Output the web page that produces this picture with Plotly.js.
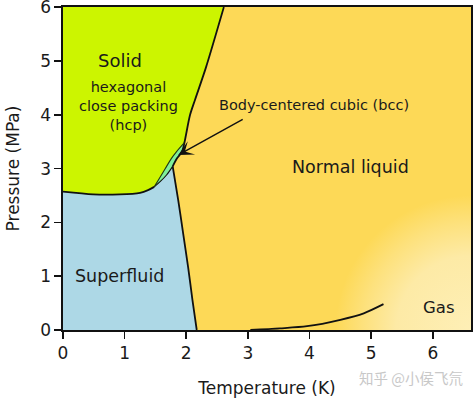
<!DOCTYPE html>
<html><head><meta charset="utf-8">
<script src="https://cdn.plot.ly/plotly-3.0.1.min.js"></script>
<style>html,body{margin:0;padding:0;background:#fff}</style>
</head><body>
<div id="chart" style="width:474px;height:398px"></div>
<script>
// Axis ranges and ticks
const xRange = [0, 6.62];
const yRange = [0, 6.002];
const xTicks = [0, 1, 2, 3, 4, 5, 6];
const yTicks = [0, 1, 2, 3, 4, 5, 6];

// hcp solid / normal liquid melting curve (top down to bcc tip)
const meltT = [2.61, 2.32, 2.14, 2.06, 1.97];
const meltP = [6.00, 4.88, 4.27, 3.99, 3.48];
// hcp / bcc boundary
const hcpBccT = [1.97, 1.84, 1.76, 1.66, 1.56, 1.48];
const hcpBccP = [3.48, 3.31, 3.19, 3.00, 2.81, 2.66];
// bcc / normal liquid boundary
const bccLiqT = [1.97, 1.93, 1.85, 1.78];
const bccLiqP = [3.48, 3.31, 3.19, 3.04];
// bcc / superfluid boundary
const bccSfT = [1.78, 1.68, 1.58, 1.48];
const bccSfP = [3.04, 2.88, 2.76, 2.66];
// hcp / superfluid boundary
const hcpSfT = [1.48, 1.38, 1.25, 0.92, 0.49, 0];
const hcpSfP = [2.66, 2.60, 2.55, 2.52, 2.52, 2.57];
// lambda line (superfluid / normal liquid)
const lambdaT = [1.78, 1.87, 1.95, 2.03, 2.10, 2.17];
const lambdaP = [3.04, 2.41, 1.79, 1.17, 0.56, 0];
// liquid / gas vapour curve up to the critical point
const vapT = [3.04, 3.52, 3.96, 4.50, 4.88, 5.20];
const vapP = [0, 0.03, 0.07, 0.19, 0.31, 0.48];
// gas glow extent (bounding box of radial fade, centred on the lower-right corner)
const glowT = [4.42, 8.82, 8.82, 4.42];
const glowP = [-2.5, -2.5, 2.5, 2.5];

const rev = a => a.slice().reverse();
const cat = (...arrs) => [].concat(...arrs);

const cLiquid = '#fdd957', cHcp = '#ccf500', cSf = '#add8e6', cBcc = '#80f09a';
const lineStyle = {color: '#111', width: 1.8, shape: 'spline', smoothing: 0.8};
const noHover = {hoverinfo: 'skip', showlegend: false, mode: 'lines'};

const traces = [
  // normal liquid (whole field)
  Object.assign({x: [xRange[0], xRange[1], xRange[1], xRange[0]], y: [yRange[0], yRange[0], yRange[1], yRange[1]],
    fill: 'toself', fillcolor: cLiquid, line: {width: 0}}, noHover),
  // gas glow
  Object.assign({x: glowT, y: glowP, fill: 'toself', line: {width: 0},
    fillgradient: {type: 'radial', colorscale: [[0, 'rgba(254,239,182,1)'], [0.55, 'rgba(253,235,170,0.95)'], [0.8, 'rgba(253,235,170,0.45)'], [1, 'rgba(253,235,170,0)']]}}, noHover),
  // hcp solid
  Object.assign({x: cat([0], meltT, hcpBccT, hcpSfT), y: cat([6], meltP, hcpBccP, hcpSfP),
    fill: 'toself', fillcolor: cHcp, line: {width: 0}}, noHover),
  // superfluid
  Object.assign({x: cat(rev(hcpSfT), rev(bccSfT), lambdaT, [0]), y: cat(rev(hcpSfP), rev(bccSfP), lambdaP, [0]),
    fill: 'toself', fillcolor: cSf, line: {width: 0}}, noHover),
  // bcc sliver
  Object.assign({x: cat(hcpBccT, rev(bccSfT), rev(bccLiqT)), y: cat(hcpBccP, rev(bccSfP), rev(bccLiqP)),
    fill: 'toself', fillcolor: cBcc, line: {width: 0}}, noHover),
  // boundary lines
  Object.assign({x: cat(meltT, bccLiqT.slice(1)), y: cat(meltP, bccLiqP.slice(1)), line: lineStyle}, noHover),
  Object.assign({x: lambdaT, y: lambdaP, line: lineStyle}, noHover),
  Object.assign({x: bccSfT, y: bccSfP, line: {color: '#111', width: 1.1, shape: 'spline'}}, noHover),
  Object.assign({x: hcpSfT, y: hcpSfP, line: lineStyle}, noHover),
  Object.assign({x: hcpBccT, y: hcpBccP, line: {color: '#1f3a12', width: 1.1, shape: 'spline'}}, noHover),
  Object.assign({x: vapT, y: vapP, line: lineStyle}, noHover)
];

const txt = '#1a1a1a';
const F = 'DejaVu Sans, Verdana, sans-serif';
const annotations = [
  {x: 0.92, y: 5.01, text: 'Solid', font: {size: 18, color: txt}},
  {x: 1.07, y: 4.17, text: 'hexagonal<br>close packing<br>(hcp)', font: {size: 14.5, color: txt}},
  {x: 4.08, y: 4.19, text: 'Body-centered cubic (bcc)', font: {size: 14.5, color: txt}},
  {x: 4.66, y: 3.02, text: 'Normal liquid', font: {size: 17.5, color: txt}},
  {x: 0.92, y: 1.0, text: 'Superfluid', font: {size: 17.5, color: txt}},
  {x: 6.10, y: 0.41, text: 'Gas', font: {size: 16.5, color: txt}},
  {x: 1.87, y: 3.25, ax: 2.94, ay: 3.93, axref: 'x', ayref: 'y', text: '', showarrow: true,
    arrowhead: 3, arrowsize: 1.8, arrowwidth: 1.4, arrowcolor: '#111'},
  {xref: 'paper', yref: 'paper', x: 0.854, y: -0.146, xanchor: 'center', yanchor: 'middle', text: '知乎 @小侯飞氘',
    font: {family: 'Noto Sans CJK SC', size: 14.5, color: '#c8c8c8'}}
].map(a => Object.assign({showarrow: false}, a));

const axisCommon = {
  showgrid: false, zeroline: false, showline: true, linecolor: '#111', linewidth: 1.6, mirror: true,
  ticks: 'outside', ticklen: 7, tickwidth: 1.6, tickcolor: '#111', ticklabeloverflow: 'allow',
  tickfont: {family: F, size: 17, color: txt}, fixedrange: true
};

const layout = {
  width: 474, height: 398,
  margin: {l: 63, r: 3, t: 7, b: 68},
  paper_bgcolor: '#fff', plot_bgcolor: '#fff',
  font: {family: F, color: txt},
  showlegend: false,
  xaxis: Object.assign({}, axisCommon, {range: xRange, tickvals: xTicks, ticktext: xTicks.map(String),
    title: {text: 'Temperature (K)', font: {family: F, size: 17, color: txt}, standoff: 20}}),
  yaxis: Object.assign({}, axisCommon, {range: yRange, tickvals: yTicks, ticktext: yTicks.map(String),
    title: {text: 'Pressure (MPa)', font: {family: F, size: 17, color: txt}, standoff: 16}}),
  annotations: annotations
};

Plotly.newPlot('chart', traces, layout, {staticPlot: true, displayModeBar: false});
</script>
</body></html>
